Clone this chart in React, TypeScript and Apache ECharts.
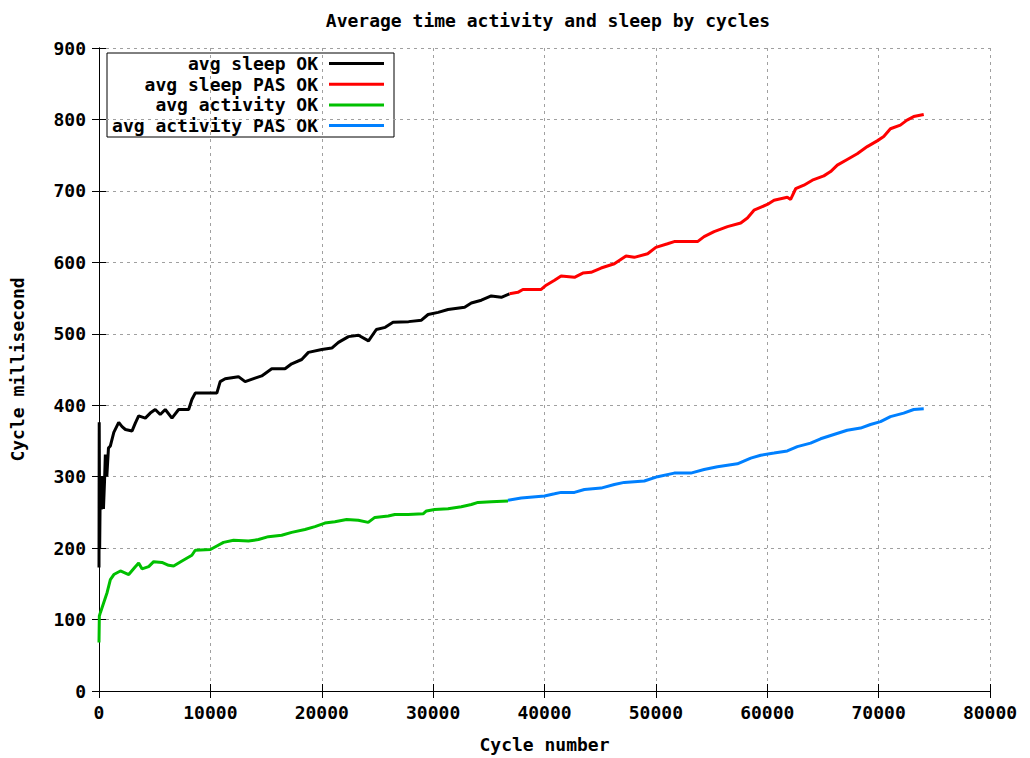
import React, { useEffect, useRef } from "react";
import * as echarts from "echarts";

const FONT = '"DejaVu Sans Mono", "Liberation Mono", monospace';

const titleText = "Average time activity and sleep by cycles";
const xAxisName = "Cycle number";
const yAxisName = "Cycle millisecond";

const seriesNames = ["avg sleep OK", "avg sleep PAS OK", "avg activity OK", "avg activity PAS OK"];
const seriesColors = ["#000000", "#ff0000", "#00c000", "#0080ff"];

const sleepOK: [number, number][] = [
  [0, 173], [20, 376], [60, 200], [120, 300], [200, 254], [300, 300], [400, 255], [500, 295],
  [570, 331], [700, 300], [850, 340], [1020, 343], [1330, 362], [1770, 376], [2070, 370],
  [2370, 366], [2970, 364], [3260, 375], [3560, 385], [4160, 382], [4600, 389], [5050, 394],
  [5500, 387], [5950, 394], [6550, 382], [7150, 394], [8050, 394], [8340, 408], [8640, 417],
  [9530, 417], [10580, 417], [10880, 433], [11330, 437], [12520, 440], [13120, 433],
  [14010, 438], [14610, 441], [15510, 451], [16700, 451], [17300, 458], [18200, 464],
  [18800, 474], [20000, 478], [20900, 480], [21500, 488], [22400, 496], [23300, 498],
  [24200, 490], [24900, 506], [25700, 509], [26400, 516], [27800, 517], [28950, 519],
  [29550, 527], [30450, 530], [31340, 534], [32830, 537], [33430, 543], [34330, 547],
  [35220, 553], [36120, 551], [36860, 556],
];

const sleepPAS: [number, number][] = [
  [36860, 556], [37610, 558], [38060, 562], [39700, 562], [40150, 568], [40900, 575],
  [41490, 581], [42690, 579], [43440, 585], [44180, 586], [45080, 592], [46270, 598],
  [47320, 609], [48060, 607], [49260, 612], [50000, 621], [51050, 626], [51650, 629],
  [53740, 629], [54330, 636], [55230, 643], [56430, 650], [57620, 655], [58220, 662],
  [58810, 673], [60010, 681], [60610, 687], [61800, 691], [62100, 688], [62550, 703],
  [63290, 708], [64050, 715], [65080, 721], [65690, 727], [66290, 736], [67180, 744],
  [68080, 752], [68980, 762], [69870, 770], [70460, 776], [71060, 787], [71950, 792],
  [72550, 799], [73150, 804], [74050, 807],
];

const activityOK: [number, number][] = [
  [0, 68], [30, 105], [130, 110], [430, 124], [730, 138], [1020, 156], [1330, 163],
  [1920, 168], [2670, 163], [3260, 174], [3560, 179], [3860, 171], [4460, 174], [4910, 181],
  [5650, 180], [6250, 176], [6700, 175], [7450, 182], [8340, 190], [8640, 197], [10000, 198],
  [10580, 203], [11180, 208], [12080, 211], [13420, 210], [14320, 212], [15210, 216],
  [16400, 218], [17300, 222], [18490, 226], [19390, 230], [20280, 235], [21180, 237],
  [22230, 240], [23280, 239], [24170, 236], [24770, 243], [25970, 245], [26560, 247],
  [27760, 247], [29100, 248], [29400, 252], [30140, 254], [31340, 255], [32530, 258],
  [33430, 261], [34030, 264], [35220, 265], [36720, 266],
];

const activityPAS: [number, number][] = [
  [36720, 267], [37910, 270], [40000, 273], [40900, 276], [41490, 278], [42690, 278],
  [43580, 282], [45080, 284], [46270, 289], [47160, 292], [48960, 294], [50160, 300],
  [51650, 305], [53140, 305], [54330, 310], [55530, 314], [57320, 318], [58520, 326],
  [59410, 330], [60610, 333], [61800, 336], [62700, 342], [63890, 347], [64790, 353],
  [65980, 359], [67180, 365], [68380, 368], [69270, 373], [70170, 377], [71060, 384],
  [72250, 389], [73150, 394], [74050, 395],
];

const seriesData = [sleepOK, sleepPAS, activityOK, activityPAS];

const X_MIN = 0, X_MAX = 80000, X_STEP = 10000;
const Y_MIN = 0, Y_MAX = 900, Y_STEP = 100;

export default function App() {
  const ref = useRef<HTMLDivElement>(null);
  useEffect(() => {
    if (!ref.current) return;
    const chart = echarts.init(ref.current, undefined, { renderer: "svg" });
    const FS = 18;
    const txt = { fontFamily: FONT, fontWeight: "bold" as const, fontSize: FS, color: "#000" };
    const gridLine = { show: true, lineStyle: { color: "#a0a0a0", type: [3, 4] as any, width: 1 } };
    const axisLine = { show: true, lineStyle: { color: "#000", width: 1 } };
    const tick = { show: true, inside: true, length: 7, lineStyle: { color: "#000" } };

    // legend box built from names/colors
    const legX = 107, legY = 53, legW = 287, legH = 84, rowH = 20.7, textRight = 318;
    const legendChildren: any[] = [
      { type: "rect", shape: { x: legX, y: legY, width: legW, height: legH }, style: { fill: "#fff", stroke: "#000", lineWidth: 1 } },
    ];
    seriesNames.forEach((n, i) => {
      const cy = legY + 10.5 + i * rowH;
      legendChildren.push({
        type: "text", x: textRight, y: cy,
        style: { text: n, fontFamily: FONT, fontWeight: "bold", fontSize: FS, fill: "#000", align: "right", verticalAlign: "middle" },
      });
      legendChildren.push({
        type: "line", shape: { x1: 329, y1: cy, x2: 384, y2: cy },
        style: { stroke: seriesColors[i], lineWidth: 3 },
      });
    });

    chart.setOption({
      animation: false,
      backgroundColor: "#fff",
      title: {
        text: titleText, left: 543, top: 6, textAlign: "center",
        textStyle: { ...txt },
      },
      grid: { left: 97, right: 40, top: 48, bottom: 66, containLabel: false },
      xAxis: [
        {
          type: "value", min: X_MIN, max: X_MAX, interval: X_STEP, position: "bottom",
          name: xAxisName, nameLocation: "middle", nameGap: 44, nameTextStyle: txt,
          axisLine, axisTick: tick, splitLine: gridLine,
          axisLabel: { ...txt, margin: 12, formatter: (v: number) => String(v) },
        },
        {
          type: "value", min: X_MIN, max: X_MAX, interval: X_STEP, position: "top",
          axisLine, axisTick: tick, splitLine: { show: false }, axisLabel: { show: false },
        },
      ],
      yAxis: [
        {
          type: "value", min: Y_MIN, max: Y_MAX, interval: Y_STEP, position: "left",
          name: yAxisName, nameLocation: "middle", nameGap: 73, nameRotate: 90, nameTextStyle: txt,
          axisLine, axisTick: tick, splitLine: gridLine,
          axisLabel: { ...txt, margin: 13, formatter: (v: number) => String(v) },
        },
        {
          type: "value", min: Y_MIN, max: Y_MAX, interval: Y_STEP, position: "right",
          axisLine, axisTick: tick, splitLine: { show: false }, axisLabel: { show: false },
        },
      ],
      series: seriesNames.map((n, i) => ({
        name: n, type: "line", xAxisIndex: 0, yAxisIndex: 0,
        data: seriesData[i], showSymbol: false, symbol: "none",
        lineStyle: { color: seriesColors[i], width: 3 },
        itemStyle: { color: seriesColors[i] },
        z: 3,
      })),
      graphic: [{ type: "group", z: 100, children: legendChildren }],
    });
    return () => chart.dispose();
  }, []);
  return <div ref={ref} style={{ position: "absolute", left: 0, top: 0, width: 1030, height: 758 }} />;
}
